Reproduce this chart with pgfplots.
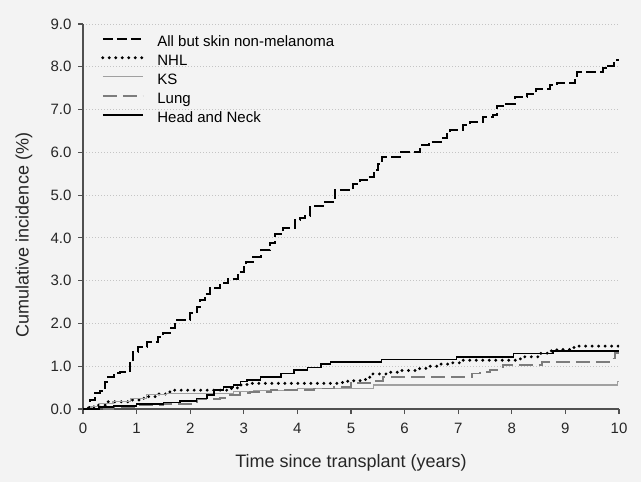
\documentclass[border=0pt]{standalone}
\usepackage{fontspec}
\setmainfont{Liberation Sans}
\usepackage{pgfplots}
\pgfplotsset{compat=1.18}
\definecolor{bg}{HTML}{F3F3F3}
\definecolor{axc}{HTML}{505050}
\definecolor{gridc}{HTML}{C4C4C4}
\definecolor{ksc}{HTML}{A0A0A0}
\definecolor{lungc}{HTML}{7C7C7C}
\begin{document}
\begin{tikzpicture}
\path[use as bounding box, fill=bg] (-83bp,-73bp) rectangle (558bp,409bp);
\begin{axis}[
  scale only axis, width=536bp, height=385bp,
  xmin=0, xmax=10, ymin=0, ymax=9,
  axis lines*=left,
  axis line style={axc, line width=1.3bp, -},
  xtick={0,1,...,10}, ytick={0,1,...,9},
  tick align=outside, major tick length=5bp,
  tick style={axc, line width=1.2bp},
  ymajorgrids, grid style={gridc, line width=0.8bp, dash pattern=on 0.8bp off 2.2bp},
  /pgf/number format/assume math mode=true,
  ticklabel style={font=\fontsize{15bp}{18bp}\selectfont, text=black!85},
  xticklabel style={yshift=-6bp},
  yticklabel style={xshift=-3bp, /pgf/number format/.cd, fixed, fixed zerofill, precision=1},
  xlabel={Time since transplant (years)},
  ylabel={Cumulative incidence (\%)},
  label style={font=\fontsize{18bp}{21bp}\selectfont, text=black!85},
  xlabel style={at={(axis description cs:0.5,-0.153)}, anchor=base},
  ylabel style={at={(axis description cs:-0.110,0.452)}, anchor=center},
  legend style={at={(0,1)}, anchor=north west, xshift=15bp, yshift=-9bp,
    draw=none, fill=none, font=\fontsize{15bp}{18bp}\selectfont,
    nodes={inner sep=0pt, text height=11bp, text depth=4bp, anchor=west},
    row sep=4bp,
    /tikz/every odd column/.append style={column sep=13bp}},
  legend cell align=left,
  legend image code/.code={\draw[#1] (0bp,4bp) -- (40bp,4bp);},
]
\addplot[const plot, black, line width=2bp, dash pattern=on 10bp off 4bp] coordinates {
(0,0) (0.13,0.21) (0.22,0.38) (0.32,0.43) (0.41,0.64) (0.47,0.75) (0.57,0.83)
(0.69,0.86) (0.88,1.11) (0.94,1.34) (1.03,1.46) (1.19,1.57) (1.40,1.69)
(1.50,1.78) (1.62,1.89) (1.72,2.08) (2.0,2.24) (2.12,2.39) (2.18,2.55)
(2.28,2.70) (2.37,2.82) (2.56,2.94) (2.71,3.05) (2.9,3.21) (3.0,3.36)
(3.05,3.44) (3.18,3.56) (3.33,3.71) (3.49,3.89) (3.58,4.10) (3.74,4.22)
(3.96,4.42) (4.05,4.46) (4.14,4.51) (4.24,4.74) (4.51,4.84) (4.70,5.12)
(5.04,5.27) (5.17,5.35) (5.29,5.43) (5.42,5.58) (5.50,5.72) (5.57,5.88)
(5.91,6.0) (6.29,6.17) (6.45,6.25) (6.70,6.33) (6.80,6.45) (6.85,6.52)
(7.09,6.64) (7.22,6.71) (7.46,6.82) (7.65,6.87) (7.72,7.08) (7.9,7.14)
(8.06,7.30) (8.28,7.37) (8.46,7.47) (8.71,7.57) (8.84,7.62) (9.18,7.78)
(9.21,7.88) (9.71,7.96) (9.80,8.02) (9.90,8.08) (9.96,8.17) (10.0,8.17)
};
\addlegendentry{All but skin non-melanoma}
\addplot[const plot, black, line width=3.2bp, line cap=round, dash pattern=on 0bp off 6.5bp] coordinates {
(0,0) (0.1,0.05) (0.25,0.09) (0.44,0.17) (0.88,0.21) (1.06,0.25) (1.19,0.29)
(1.38,0.35) (1.56,0.40) (1.69,0.44) (2.75,0.48) (2.88,0.56) (3.06,0.60)
(4.81,0.62) (4.94,0.66) (5.17,0.69) (5.35,0.82) (5.72,0.86) (5.91,0.90)
(6.28,0.95) (6.47,1.00) (6.66,1.05) (6.85,1.08) (7.09,1.14) (8.16,1.22)
(8.53,1.30) (8.66,1.36) (8.84,1.39) (9.16,1.47) (10,1.47)
};
\addlegendentry{NHL}
\addplot[const plot, ksc, line width=1.1bp] coordinates {
(0,0) (0.15,0.05) (0.31,0.12) (0.56,0.17) (0.88,0.25) (1.19,0.33) (1.56,0.36)
(2.81,0.40) (3.19,0.44) (4.0,0.48) (5.42,0.56) (9.96,0.56) (9.97,0.64) (10,0.64)
};
\addlegendentry{KS}
\addplot[const plot, lungc, line width=1.8bp, dash pattern=on 14bp off 6bp] coordinates {
(0,0) (0.56,0.05) (1.0,0.09) (1.5,0.12) (2.12,0.23) (2.56,0.25) (2.68,0.33)
(2.93,0.37) (3.12,0.40) (3.5,0.44) (4.31,0.48) (4.69,0.52) (5.0,0.60)
(5.35,0.66) (5.6,0.74) (7.26,0.83) (7.41,0.87) (7.6,0.91) (7.72,0.97)
(7.84,1.03) (8.56,1.10) (9.84,1.18) (9.93,1.30) (10,1.30)
};
\addlegendentry{Lung}
\addplot[const plot, black, line width=1.6bp] coordinates {
(0,0) (0.3,0.04) (0.57,0.07) (1.0,0.12) (1.5,0.15) (1.81,0.19) (2.12,0.25)
(2.31,0.33) (2.44,0.44) (2.62,0.52) (2.81,0.56) (2.94,0.64) (3.06,0.68)
(3.31,0.75) (3.69,0.83) (3.94,0.91) (4.19,0.97) (4.44,1.05) (4.62,1.10)
(5.57,1.16) (6.97,1.22) (8.03,1.30) (8.77,1.36) (10,1.36)
};
\addlegendentry{Head and Neck}
\end{axis}
\end{tikzpicture}
\end{document}
